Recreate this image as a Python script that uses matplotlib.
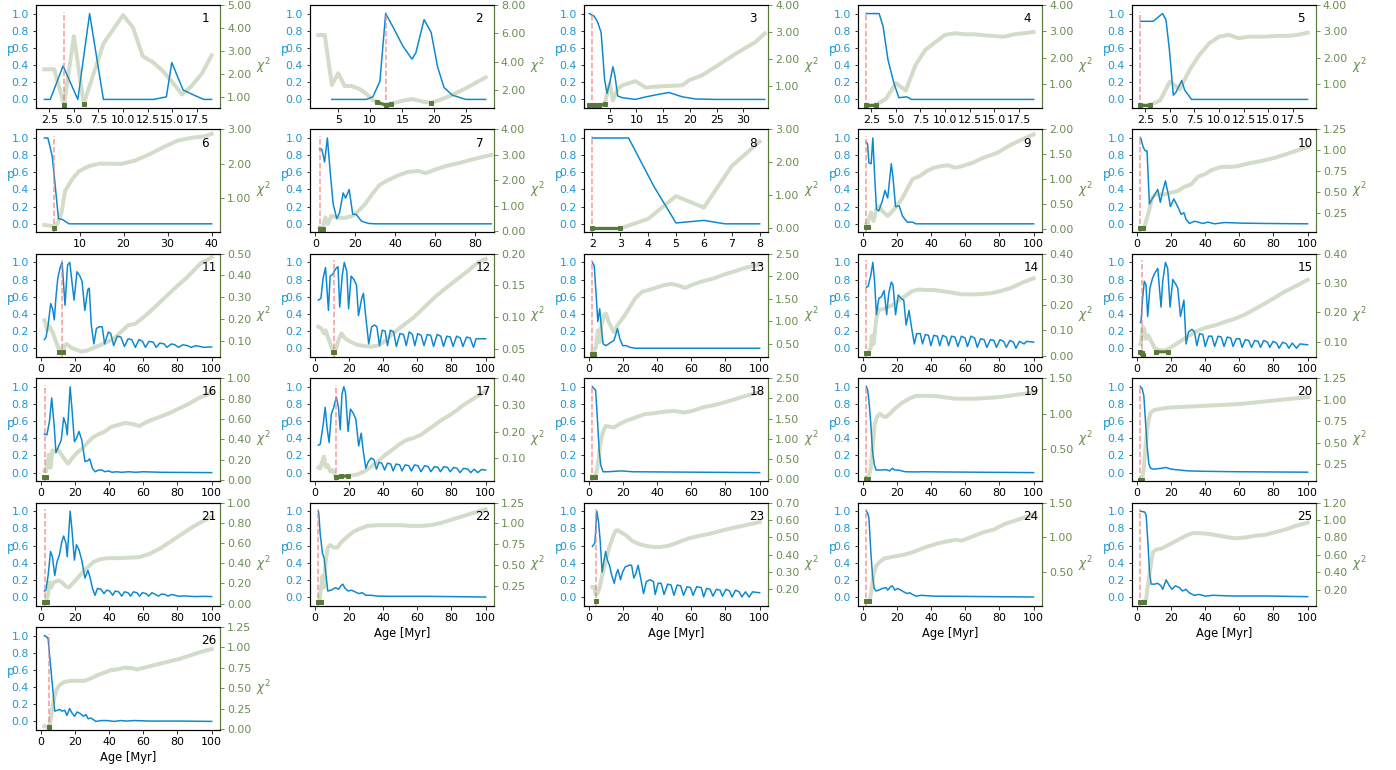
import numpy as np
import matplotlib.pyplot as plt
from matplotlib.ticker import MultipleLocator, FormatStrFormatter

nan = np.nan

# --- DATA ---
# pa = ages of p curve, p = probability, ca = ages of chi2 curve, chi = chi2,
# fa/fchi = best-fit (dark green) points
pa1 = [2.0, 2.6, 3.9, 5.4, 6.6, 8.0, 13.1, 14.4, 14.95, 16.1, 17.2, 18.2, 19.0]
p1 = [0, 0, 0.39, 0, 1.0, 0, 0, 0.03, 0.43, 0.11, 0.05, 0, 0]
ca1 = [2, 3, 4, 5, 6, 8, 10, 11, 12, 13, 14, 15, 16, 17, 18, 19]
chi1 = [2.19, 2.19, 0.65, 3.64, 0.68, 3.31, 4.56, 4.02, 2.76, 2.51, 2.14, 1.63, 1.09, 1.48, 2.0, 2.8]
fa1 = [4, nan, 6]
fchi1 = [0.65, nan, 0.68]

pa2 = [4.0, 9.4, 10.4, 11.5, 12.4, 13.5, 15.1, 16.5, 17.1, 18.4, 19.5, 20.5, 21.5, 22.8, 24.9, 28.0]
p2 = [0, 0, 0.03, 0.21, 1.0, 0.85, 0.62, 0.47, 0.54, 0.93, 0.78, 0.38, 0.14, 0.05, 0, 0]
ca2 = [1.9, 2.9, 4.0, 5.0, 6.0, 7.1, 8.4, 9.4, 10.4, 11.5, 12.4, 13.5, 15.1, 16.5, 18.2, 19.5, 20.8, 22.8, 24.9, 28.0]
chi2 = [5.88, 5.88, 2.35, 3.18, 2.28, 2.28, 2.05, 1.72, 1.29, 1.06, 0.94, 1.06, 1.25, 1.36, 1.18, 1.1, 1.29, 1.65, 2.12, 2.89]
fa2 = [11.0, 12.4, 13.3, nan, 19.5]
fchi2 = [1.15, 0.94, 1.02, nan, 1.1]

pa3 = [1.2, 2.1, 2.75, 3.4, 4.05, 4.5, 5.0, 5.6, 6.0, 6.5, 7.4, 9.8, 11.8, 14.2, 16.1, 18.6, 21.1, 24.8, 34.0]
p3 = [1.0, 0.97, 0.9, 0.78, 0.23, 0.07, 0.19, 0.38, 0.27, 0.04, 0.02, 0.0, 0.03, 0.06, 0.08, 0.03, 0.005, 0, 0]
ca3 = [1.2, 4.05, 5.0, 5.6, 6.5, 7.4, 9.8, 11.8, 13.0, 18.6, 19.8, 22.3, 24.8, 28.6, 32.3, 34.0]
chi3 = [0.30, 0.33, 1.1, 0.48, 0.91, 1.04, 1.19, 0.95, 0.98, 1.04, 1.22, 1.41, 1.72, 2.21, 2.64, 2.95]
fa3 = [1.2, 2.0, 3.0, 4.05]
fchi3 = [0.30, 0.30, 0.31, 0.33]

pa4 = [2.0, 3.3, 3.7, 4.2, 4.8, 5.3, 6.1, 6.6, 7.4, 19.0]
p4 = [1.0, 1.0, 0.85, 0.46, 0.19, 0.02, 0.03, 0.0, 0, 0]
ca4 = [2, 3, 4, 5, 6, 7, 8, 9, 10, 11, 12, 13, 14, 16, 17, 18, 19]
chi4 = [0.22, 0.22, 0.45, 1.04, 0.76, 1.73, 2.3, 2.59, 2.87, 2.93, 2.89, 2.89, 2.85, 2.8, 2.89, 2.93, 2.98]
fa4 = [2, 3]
fchi4 = [0.22, 0.22]

pa5 = [2.0, 3.3, 4.25, 4.6, 4.95, 5.35, 5.6, 6.2, 6.5, 7.2, 19.0]
p5 = [0.91, 0.91, 1.0, 0.93, 0.58, 0.05, 0.08, 0.22, 0.11, 0, 0]
ca5 = [2, 3, 4, 5, 6, 7, 8, 9, 10, 11, 12, 13, 14.5, 16, 17, 18, 19]
chi5 = [0.22, 0.22, 0.38, 1.1, 0.81, 1.54, 2.11, 2.55, 2.8, 2.87, 2.74, 2.8, 2.8, 2.83, 2.83, 2.87, 2.95]
fa5 = [2, 3]
fchi5 = [0.22, 0.22]

pa6 = [2.0, 2.8, 3.5, 3.8, 4.2, 4.8, 5.2, 6.1, 6.7, 7.6, 40.0]
p6 = [1.0, 1.0, 0.85, 0.78, 0.58, 0.27, 0.06, 0.05, 0.03, 0.0, 0.0]
ca6 = [2.0, 3.8, 4.4, 5.05, 5.9, 6.7, 8.3, 9.85, 12.25, 14.65, 19.5, 22.7, 25.9, 29.1, 32.4, 35.6, 38.4, 40.0]
chi6 = [0.23, 0.2, 0.17, 0.3, 0.6, 1.21, 1.55, 1.79, 1.94, 2.01, 2.0, 2.1, 2.28, 2.49, 2.68, 2.76, 2.8, 2.87]
fa6 = [4.1]
fchi6 = [0.15]

pa7 = [2.1, 3.2, 4.6, 6.0, 7.5, 8.9, 10.7, 12.1, 13.9, 15.1, 16.9, 18.7, 20.4, 23.1, 26.7, 30.2, 88.0]
p7 = [0.87, 0.87, 0.72, 1.0, 0.58, 0.23, 0.06, 0.13, 0.36, 0.3, 0.4, 0.11, 0.11, 0.03, 0.004, 0, 0]
ca7 = [2.1, 3.6, 5.0, 6.2, 8.0, 10.7, 14.2, 18.7, 21.3, 24.9, 28.4, 32.0, 35.6, 40.9, 46.2, 51.6, 55.1, 60.4, 65.8, 72.9, 80.0, 88.0]
chi7 = [0.16, 0.09, 0.55, 0.29, 0.61, 0.55, 0.52, 0.61, 0.78, 1.07, 1.46, 1.81, 1.98, 2.18, 2.33, 2.37, 2.28, 2.44, 2.57, 2.7, 2.85, 3.0]
fa7 = [2.1, 3.6]
fchi7 = [0.1, 0.1]

pa8 = [2.0, 3.3, 4.2, 5.0, 6.0, 6.75, 8.0]
p8 = [1.0, 1.0, 0.44, 0.01, 0.04, 0, 0]
ca8 = [2, 3, 4, 5, 6, 7, 8]
chi8 = [0, 0, 0.29, 0.98, 0.63, 1.89, 2.63]
fa8 = [2, 3]
fchi8 = [0, 0]

pa9 = [2.0, 2.7, 3.5, 4.8, 5.8, 6.8, 7.9, 9.3, 11.4, 12.9, 14.5, 16.6, 17.6, 19.1, 21.2, 23.2, 25.9, 29.0, 31.0, 100]
p9 = [0.95, 0.93, 0.71, 0.7, 1.0, 0.58, 0.17, 0.15, 0.27, 0.39, 0.3, 0.7, 0.54, 0.2, 0.21, 0.09, 0.02, 0.02, 0, 0]
ca9 = [2.0, 2.7, 3.7, 4.8, 6.2, 7.9, 9.3, 11.4, 14.5, 16.6, 19.7, 22.8, 25.9, 29.0, 33.2, 37.3, 41.5, 45.6, 49.8, 53.9,
       58.0, 64.3, 70.5, 78.8, 87.1, 93.4, 100]
chi9 = [0.09, 0.09, 0.23, 0.33, 0.16, 0.39, 0.46, 0.36, 0.26, 0.33, 0.46, 0.6, 0.8, 1.0, 1.06, 1.16, 1.23, 1.26, 1.28, 1.23,
        1.26, 1.33, 1.43, 1.53, 1.7, 1.8, 1.9]
fa9 = [2.0, 3.0]
fchi9 = [0.03, 0.03]

pa10 = [2.0, 2.4, 3.7, 4.9, 5.9, 7.3, 9.2, 12.2, 13.7, 15.1, 16.7, 18.4, 19.6, 21.6, 23.9, 25.9, 27.5, 28.8, 30.8, 33.7,
        35.7, 38.6, 41.6, 45.5, 51.4, 61.2, 74.9, 100]
p10 = [1.0, 0.99, 0.89, 0.85, 0.85, 0.23, 0.3, 0.4, 0.25, 0.38, 0.5, 0.34, 0.2, 0.29, 0.2, 0.11, 0.13, 0.05, 0.004, 0.03,
       0.02, 0.004, 0.02, 0, 0.015, 0.008, 0.004, 0]
ca10 = [2.0, 2.8, 4.3, 5.9, 7.3, 8.8, 11.2, 16.1, 20.0, 23.9, 27.8, 31.8, 35.7, 39.6, 43.5, 49.4, 55.3, 59.2, 65.1, 72.9,
        80.8, 88.6, 100]
chi10 = [0.07, 0.07, 0.07, 0.19, 0.29, 0.43, 0.47, 0.47, 0.49, 0.51, 0.56, 0.59, 0.68, 0.71, 0.76, 0.8, 0.8, 0.81, 0.84,
         0.87, 0.91, 0.96, 1.04]
fa10 = [2.0, 3.5]
fchi10 = [0.06, 0.06]

pa11 = [2, 3, 4.2, 5.7, 6.8, 7.8, 8.9, 9.9, 11.4, 12.4, 14.1, 15.6, 16.9, 17.9, 19.4, 21.1, 22.6, 24.1, 25.7, 27.4,
        28.3, 29.5, 31.0, 32.5, 34.2, 35.9, 37.3, 39.5, 40.9, 42.6, 44.7, 46.8, 48.9, 51.1, 53.2, 55.3, 57.4, 59.5, 61.2,
        63.3, 65.8, 67.5, 69.6, 72.2, 73.8, 76.4, 78.5, 80.6, 83.1, 85.9, 88.0, 90.7, 93.2, 95.4, 100]
p11 = [0.1, 0.13, 0.27, 0.52, 0.46, 0.33, 0.62, 0.82, 0.95, 1.0, 0.5, 0.97, 1.0, 0.82, 0.56, 0.89, 0.85, 0.78, 0.44, 0.68,
       0.7, 0.27, 0.05, 0.23, 0.25, 0.25, 0.05, 0.19, 0.17, 0.03, 0.14, 0.13, 0.02, 0.11, 0.1, 0.01, 0.1, 0.08, 0.01,
       0.08, 0.07, 0.01, 0.06, 0.05, 0.01, 0.05, 0.04, 0.01, 0.04, 0.03, 0.01, 0.03, 0.02, 0.01, 0.015]
ca11 = [2, 2.5, 3.6, 4.6, 6.8, 8.9, 11.0, 12.7, 13.7, 15.2, 17.3, 20.5, 23.6, 26.8, 30.0, 34.2, 38.4, 42.6, 46.8, 51.0,
        55.3, 59.5, 63.7, 67.9, 72.2, 76.4, 80.6, 84.8, 89.0, 93.2, 100]
chi11 = [0.193, 0.185, 0.147, 0.17, 0.139, 0.092, 0.053, 0.045, 0.077, 0.084, 0.069, 0.058, 0.049, 0.053, 0.064, 0.077,
         0.092, 0.108, 0.139, 0.17, 0.178, 0.204, 0.232, 0.263, 0.295, 0.326, 0.357, 0.385, 0.419, 0.453, 0.484]
fa11 = [10.5, 12.7]
fchi11 = [0.045, 0.045]

pa12 = [2, 3.5, 4.8, 6.2, 7.9, 8.9, 10.4, 11.4, 12.4, 13.5, 14.5, 16.0, 17.2, 18.7, 19.7, 21.2, 22.8, 24.3, 25.5, 27.4,
        28.4, 29.7, 31.5, 33.2, 34.9, 36.3, 37.8, 39.4, 41.1, 42.5, 44.2, 46.1, 47.7, 49.8, 51.9, 53.5, 55.2, 57.1, 58.5,
        60.2, 62.2, 63.9, 65.8, 67.8, 69.5, 71.6, 73.7, 75.3, 77.2, 79.3, 80.9, 83.0, 85.1, 86.7, 88.8, 90.9, 92.9, 94.4,
        100]
p12 = [0.56, 0.58, 0.82, 0.94, 0.44, 0.84, 0.86, 0.9, 0.93, 0.95, 0.48, 0.85, 1.0, 0.89, 0.46, 0.84, 0.8, 0.74, 0.38,
       0.58, 0.64, 0.38, 0.05, 0.25, 0.27, 0.25, 0.03, 0.21, 0.2, 0.03, 0.21, 0.19, 0.02, 0.17, 0.16, 0.03, 0.19, 0.16,
       0.03, 0.17, 0.15, 0.03, 0.16, 0.15, 0.02, 0.16, 0.14, 0.02, 0.14, 0.13, 0.02, 0.14, 0.12, 0.02, 0.13, 0.12, 0.01,
       0.11, 0.11]
ca12 = [2, 3.7, 5.2, 6.2, 7.9, 9.3, 10.8, 12.4, 14.1, 15.6, 17.6, 20.7, 24.9, 29.0, 33.2, 37.3, 41.5, 45.6, 51.9, 58.1,
        64.3, 70.5, 76.8, 83.0, 89.2, 95.4, 100]
chi12 = [0.0846, 0.082, 0.074, 0.079, 0.066, 0.055, 0.045, 0.05, 0.066, 0.074, 0.066, 0.061, 0.056, 0.054, 0.053, 0.055,
         0.063, 0.074, 0.087, 0.1, 0.116, 0.132, 0.146, 0.159, 0.172, 0.186, 0.192]
fa12 = [10.4, 11.4]
fchi12 = [0.045, 0.045]

pa13 = [2, 3.1, 4.2, 5.2, 6.3, 7.3, 8.3, 10.0, 11.5, 12.9, 14.6, 15.6, 16.7, 18.1, 19.8, 21.9, 24.0, 27.1, 100]
p13 = [1.0, 0.96, 0.62, 0.31, 0.46, 0.23, 0.05, 0.03, 0.05, 0.07, 0.09, 0.15, 0.23, 0.11, 0.03, 0.03, 0.01, 0, 0]
ca13 = [2, 3.1, 4.2, 5.2, 6.3, 7.3, 8.8, 10.0, 11.5, 14.6, 16.7, 18.8, 20.8, 22.9, 27.1, 31.3, 35.4, 39.6, 43.8, 47.9,
        52.1, 56.3, 60.4, 66.7, 72.9, 79.2, 85.4, 91.7, 100]
chi13 = [0.35, 0.35, 0.43, 0.8, 0.54, 0.91, 1.14, 1.17, 0.99, 0.76, 0.91, 1.02, 1.12, 1.25, 1.51, 1.66, 1.7, 1.75, 1.8,
         1.83, 1.8, 1.74, 1.81, 1.89, 1.95, 2.04, 2.11, 2.19, 2.26]
fa13 = [2, 3.1]
fchi13 = [0.28, 0.28]

pa14 = [2, 3, 4.6, 5.8, 6.8, 7.9, 9.3, 10.8, 12.4, 13.9, 15.1, 16.6, 17.6, 19.1, 20.7, 22.4, 23.9, 25.3, 27.0, 28.4,
        30.1, 31.5, 33.6, 34.9, 36.5, 38.4, 39.8, 41.5, 43.6, 45.0, 46.7, 48.8, 50.2, 51.9, 53.9, 55.6, 57.7, 59.8, 61.2,
        63.3, 65.4, 67.0, 68.9, 71.0, 72.6, 74.7, 76.8, 78.2, 80.3, 82.4, 84.0, 86.1, 88.2, 89.6, 91.7, 94.4, 95.9, 100]
p14 = [0.71, 0.72, 0.85, 1.0, 0.78, 0.39, 0.58, 0.6, 0.67, 0.39, 0.64, 0.77, 0.74, 0.39, 0.62, 0.58, 0.56, 0.27, 0.44,
       0.25, 0.05, 0.17, 0.17, 0.05, 0.16, 0.15, 0.03, 0.15, 0.14, 0.03, 0.15, 0.13, 0.03, 0.14, 0.13, 0.02, 0.14, 0.12,
       0.02, 0.14, 0.12, 0.01, 0.11, 0.1, 0.01, 0.1, 0.09, 0.01, 0.1, 0.08, 0.01, 0.09, 0.07, 0.0, 0.08, 0.05, 0.08, 0.07]
ca14 = [2, 3, 4.6, 5.2, 6.2, 7.9, 9.3, 11.4, 14.5, 17.6, 20.7, 24.9, 29.0, 33.2, 37.3, 41.5, 45.6, 51.9, 58.1, 66.4,
        74.7, 80.9, 87.1, 93.4, 100]
chi14 = [0.009, 0.009, 0.033, 0.078, 0.046, 0.15, 0.182, 0.182, 0.19, 0.2, 0.215, 0.235, 0.254, 0.26, 0.258, 0.258, 0.254,
         0.248, 0.241, 0.241, 0.245, 0.254, 0.267, 0.287, 0.304]
fa14 = [2, 3.1]
fchi14 = [0.009, 0.009]

pa15 = [2, 2.4, 3.3, 4.3, 5.3, 6.3, 7.6, 9.2, 10.6, 12.2, 14.1, 15.1, 16.7, 18.0, 19.4, 21.0, 22.9, 23.9, 25.5, 27.5,
        28.8, 30.2, 32.2, 33.7, 35.1, 36.7, 38.6, 40.0, 42.0, 43.9, 45.5, 47.5, 49.4, 51.0, 52.9, 54.9, 56.3, 58.2, 60.2,
        61.6, 63.5, 65.5, 67.1, 69.0, 71.0, 72.4, 74.3, 76.5, 77.8, 79.8, 81.8, 83.3, 85.3, 87.6, 89.0, 91.0, 93.5, 95.5,
        100]
p15 = [0.3, 0.31, 0.58, 0.78, 0.74, 0.37, 0.7, 0.82, 0.88, 0.93, 0.48, 0.78, 1.0, 0.93, 0.48, 0.8, 0.74, 0.7, 0.37, 0.56,
       0.05, 0.19, 0.22, 0.19, 0.03, 0.17, 0.16, 0.02, 0.14, 0.14, 0.02, 0.14, 0.13, 0.02, 0.13, 0.12, 0.02, 0.11, 0.11,
       0.01, 0.1, 0.09, 0.01, 0.09, 0.08, 0.01, 0.09, 0.07, 0.01, 0.08, 0.06, 0.0, 0.07, 0.05, 0.0, 0.06, 0.0, 0.05, 0.04]
ca15 = [2, 2.4, 3.3, 4.3, 5.3, 6.7, 8.2, 10.2, 12.2, 16.1, 19.0, 22.0, 25.9, 29.8, 33.7, 37.6, 41.6, 45.5, 51.4, 57.3,
        63.1, 69.0, 74.9, 80.8, 86.7, 92.5, 100]
chi15 = [0.092, 0.098, 0.15, 0.144, 0.109, 0.121, 0.103, 0.08, 0.072, 0.069, 0.077, 0.088, 0.103, 0.118, 0.132, 0.142,
         0.15, 0.155, 0.167, 0.178, 0.192, 0.211, 0.23, 0.25, 0.271, 0.288, 0.311]
fa15 = [2, 2.8, 3.4, nan, 11.2, 18.0]
fchi15 = [0.065, 0.062, 0.054, nan, 0.065, 0.065]

pa16 = [2, 3.5, 5.0, 6.3, 7.7, 8.8, 10.4, 11.9, 13.3, 14.6, 15.4, 17.1, 18.1, 19.6, 20.8, 22.3, 23.9, 25.8, 27.5, 28.5,
        30.2, 31.7, 33.8, 35.8, 37.5, 39.6, 41.5, 44.2, 47.3, 51.5, 55.6, 59.8, 70.2, 100]
p16 = [0.45, 0.44, 0.6, 0.87, 0.56, 0.23, 0.31, 0.38, 0.64, 0.56, 0.44, 1.0, 0.76, 0.36, 0.4, 0.48, 0.38, 0.13, 0.14,
       0.16, 0.05, 0.01, 0.03, 0.03, 0.01, 0.02, 0.004, 0.01, 0.004, 0.01, 0.004, 0.01, 0.004, 0]
ca16 = [2, 3.1, 4.6, 5.6, 6.7, 8.1, 9.8, 11.9, 14.0, 16.0, 18.1, 21.3, 24.4, 27.5, 30.6, 33.8, 36.9, 41.0, 45.2, 49.4,
        53.5, 57.7, 61.9, 68.1, 74.4, 80.6, 86.9, 93.1, 100]
chi16 = [0.09, 0.085, 0.25, 0.12, 0.29, 0.28, 0.3, 0.25, 0.2, 0.16, 0.21, 0.27, 0.31, 0.37, 0.42, 0.45, 0.47, 0.52, 0.54,
         0.56, 0.55, 0.53, 0.57, 0.61, 0.65, 0.7, 0.75, 0.81, 0.86]
fa16 = [2, 3.1]
fchi16 = [0.033, 0.033]

pa17 = [2, 3.1, 4.8, 6.0, 7.1, 8.3, 9.6, 11.0, 12.5, 13.8, 14.8, 15.8, 16.9, 17.9, 19.4, 20.8, 22.5, 24.0, 25.6, 27.1,
        28.3, 29.8, 31.3, 32.9, 34.6, 36.0, 37.5, 39.2, 40.8, 42.5, 44.4, 45.8, 47.5, 49.6, 51.0, 52.9, 55.0, 56.5, 58.3,
        60.4, 62.1, 64.2, 66.3, 67.9, 70.0, 72.1, 73.5, 75.6, 77.7, 79.2, 81.3, 83.3, 85.0, 87.1, 89.6, 91.3, 93.3, 95.4,
        97.5, 100]
p17 = [0.32, 0.33, 0.56, 0.76, 0.52, 0.35, 0.68, 0.76, 0.88, 0.76, 0.5, 0.91, 1.0, 0.93, 0.48, 0.74, 0.69, 0.62, 0.31,
       0.46, 0.25, 0.05, 0.13, 0.17, 0.15, 0.04, 0.12, 0.11, 0.03, 0.11, 0.1, 0.02, 0.1, 0.09, 0.02, 0.09, 0.08, 0.02,
       0.09, 0.08, 0.01, 0.08, 0.07, 0.01, 0.07, 0.06, 0.01, 0.07, 0.06, 0.01, 0.06, 0.05, 0.0, 0.05, 0.04, 0.0, 0.04,
       0.0, 0.035, 0.03]
ca17 = [2, 3.1, 4.2, 5.2, 6.3, 7.5, 9.0, 10.4, 12.1, 13.8, 16.3, 20.4, 24.6, 28.8, 32.9, 37.1, 41.3, 45.4, 49.6, 53.8,
        57.9, 62.1, 66.3, 70.4, 74.6, 78.8, 82.9, 87.1, 91.3, 95.4, 100]
chi17 = [0.065, 0.062, 0.087, 0.106, 0.068, 0.075, 0.05, 0.056, 0.031, 0.031, 0.033, 0.034, 0.039, 0.05, 0.068, 0.09,
         0.113, 0.132, 0.153, 0.169, 0.176, 0.188, 0.207, 0.226, 0.245, 0.261, 0.279, 0.3, 0.317, 0.333, 0.352]
fa17 = [12.1, 15.0, 19.5]
fchi17 = [0.031, 0.032, 0.034]

pa18 = [2, 2.9, 3.9, 5.0, 6.0, 7.0, 8.3, 10.8, 19.1, 25.3, 100]
p18 = [1.0, 0.98, 0.96, 0.61, 0.25, 0.08, 0.01, 0.01, 0.02, 0.01, 0]
ca18 = [2, 3.5, 4.6, 5.6, 6.6, 8.1, 9.8, 11.8, 14.9, 18.0, 22.2, 27.4, 32.6, 37.8, 44.0, 50.2, 55.4, 60.6, 66.8, 73.0,
        79.3, 85.5, 91.7, 100]
chi18 = [0.066, 0.05, 0.21, 0.46, 0.87, 1.16, 1.32, 1.3, 1.28, 1.37, 1.45, 1.53, 1.61, 1.63, 1.67, 1.69, 1.65, 1.69, 1.78,
         1.83, 1.9, 1.98, 2.06, 2.15]
fa18 = [2, 3.5]
fchi18 = [0.06, 0.06]

pa19 = [2, 2.7, 3.5, 4.6, 5.6, 6.6, 7.7, 10.4, 13.5, 15.6, 17.2, 18.7, 20.7, 24.9, 31.1, 35.3, 45.6, 100]
p19 = [1.0, 0.97, 0.84, 0.57, 0.25, 0.1, 0.03, 0.03, 0.035, 0.02, 0.05, 0.03, 0.03, 0.01, 0.008, 0.01, 0.008, 0]
ca19 = [2, 3.1, 4.6, 5.8, 6.8, 8.3, 10.0, 11.8, 13.5, 15.6, 18.7, 22.8, 27.0, 31.1, 35.3, 41.5, 47.7, 53.9, 60.2, 66.4,
        72.6, 78.8, 85.1, 91.3, 100]
chi19 = [0.09, 0.09, 0.22, 0.56, 0.84, 0.96, 0.995, 0.96, 0.95, 0.995, 1.07, 1.15, 1.21, 1.25, 1.25, 1.25, 1.23, 1.21,
         1.21, 1.21, 1.22, 1.23, 1.25, 1.27, 1.3]
fa19 = [2, 3.1]
fchi19 = [0.08, 0.08]

pa20 = [2, 3, 4, 5, 6, 7, 8, 10, 14, 17, 20, 25, 30, 40, 60, 100]
p20 = [1.0, 0.98, 0.9, 0.6, 0.3, 0.1, 0.05, 0.04, 0.05, 0.06, 0.04, 0.03, 0.02, 0.015, 0.01, 0.005]
ca20 = [2, 3, 4, 5, 6, 7, 8, 10, 15, 20, 30, 40, 50, 60, 70, 80, 90, 100]
chi20 = [0.07, 0.07, 0.2, 0.45, 0.65, 0.78, 0.85, 0.88, 0.9, 0.91, 0.92, 0.93, 0.94, 0.95, 0.97, 0.99, 1.01, 1.03]
fa20 = [2, 3]
fchi20 = [0.07, 0.07]

pa21 = [2, 2.9, 4.2, 5.6, 6.7, 8.1, 9.4, 10.8, 12.3, 13.3, 14.6, 15.4, 17.1, 18.1, 19.6, 20.8, 22.3, 23.9, 25.8, 27.5,
        28.5, 30.2, 31.7, 33.1, 35.2, 36.9, 38.5, 40.2, 42.1, 43.5, 45.6, 47.3, 48.9, 51.0, 52.5, 54.2, 56.3, 57.7, 59.4,
        61.5, 63.1, 65.0, 67.1, 68.8, 70.6, 72.7, 74.4, 76.5, 78.5, 80.6, 84.8, 90.0, 95.2, 100]
p21 = [0.07, 0.08, 0.25, 0.53, 0.47, 0.25, 0.41, 0.49, 0.65, 0.71, 0.63, 0.47, 1.0, 0.8, 0.43, 0.61, 0.55, 0.43, 0.22,
       0.31, 0.25, 0.1, 0.02, 0.1, 0.09, 0.04, 0.08, 0.07, 0.02, 0.07, 0.06, 0.01, 0.06, 0.05, 0.01, 0.06, 0.05, 0.01,
       0.05, 0.04, 0.01, 0.05, 0.03, 0.01, 0.035, 0.03, 0.01, 0.03, 0.02, 0.01, 0.012, 0.005, 0.008, 0.005]
ca21 = [2, 2.9, 4.2, 5.0, 6.0, 7.3, 8.8, 10.4, 12.3, 14.6, 16.5, 18.1, 21.3, 24.4, 27.5, 30.6, 34.8, 39.0, 45.2, 51.5,
        57.7, 64.0, 70.2, 76.5, 82.7, 89.0, 95.2, 100]
chi21 = [0.017, 0.017, 0.09, 0.21, 0.16, 0.21, 0.22, 0.23, 0.21, 0.17, 0.16, 0.19, 0.25, 0.31, 0.36, 0.41, 0.44, 0.45,
         0.45, 0.455, 0.46, 0.495, 0.55, 0.62, 0.69, 0.76, 0.82, 0.86]
fa21 = [2, 3.5]
fchi21 = [0.015, 0.015]

pa22 = [2, 2.3, 3.1, 4.4, 5.4, 6.5, 7.5, 9.6, 12.1, 13.8, 15.2, 16.3, 17.7, 19.4, 21.5, 23.5, 25.6, 27.7, 29.8, 32.9,
        37.1, 45.4, 66.3, 100]
p22 = [1.0, 0.96, 0.73, 0.51, 0.45, 0.25, 0.07, 0.08, 0.11, 0.09, 0.13, 0.15, 0.1, 0.07, 0.08, 0.06, 0.04, 0.05, 0.02,
       0.02, 0.01, 0.008, 0.008, 0]
ca22 = [2, 2.6, 3.3, 4.4, 5.2, 6.3, 7.5, 9.0, 11.0, 13.1, 15.2, 18.3, 22.5, 26.7, 30.8, 37.1, 43.3, 49.6, 55.8, 62.1,
        68.3, 74.6, 80.8, 87.1, 93.3, 100]
chi22 = [0.06, 0.06, 0.19, 0.37, 0.23, 0.55, 0.71, 0.74, 0.71, 0.71, 0.77, 0.83, 0.9, 0.94, 0.97, 0.98, 0.98, 0.98, 0.97,
         0.97, 0.98, 1.01, 1.05, 1.09, 1.13, 1.17]
fa22 = [2, 3.3]
fchi22 = [0.06, 0.06]

pa23 = [2, 3.5, 4.6, 5.6, 6.6, 7.7, 8.7, 9.8, 10.8, 12.0, 13.4, 14.8, 16.0, 17.0, 18.5, 19.7, 21.2, 23.4, 25.0, 26.3,
        27.4, 28.8, 30.1, 32.0, 33.6, 35.7, 37.8, 38.8, 40.5, 42.3, 44.0, 46.1, 48.1, 49.8, 51.7, 53.7, 55.4, 57.5, 59.5,
        61.0, 63.1, 65.8, 67.2, 68.9, 71.0, 72.6, 74.7, 76.8, 78.2, 80.3, 82.4, 83.8, 85.9, 88.0, 89.6, 91.7, 93.8, 95.9,
        100]
p23 = [0.59, 0.63, 1.0, 0.88, 0.65, 0.29, 0.41, 0.53, 0.43, 0.37, 0.25, 0.16, 0.27, 0.32, 0.2, 0.29, 0.35, 0.37, 0.37,
       0.22, 0.27, 0.37, 0.24, 0.04, 0.18, 0.2, 0.18, 0.03, 0.16, 0.16, 0.03, 0.15, 0.14, 0.02, 0.14, 0.13, 0.02, 0.12,
       0.11, 0.02, 0.12, 0.11, 0.0, 0.1, 0.09, 0.01, 0.09, 0.08, 0.01, 0.09, 0.07, 0.0, 0.08, 0.06, 0.0, 0.06, 0.0, 0.06,
       0.05]
ca23 = [2, 3.1, 3.9, 5.0, 6.2, 7.7, 9.8, 11.8, 13.9, 15.6, 17.0, 19.1, 22.2, 25.3, 29.5, 33.6, 37.8, 41.9, 46.1, 50.2,
        54.4, 58.5, 64.7, 71.0, 77.2, 83.4, 89.6, 95.9, 100]
chi23 = [0.213, 0.213, 0.17, 0.175, 0.21, 0.277, 0.363, 0.44, 0.498, 0.537, 0.54, 0.527, 0.508, 0.479, 0.46, 0.45, 0.444,
         0.444, 0.45, 0.463, 0.479, 0.494, 0.508, 0.521, 0.537, 0.552, 0.565, 0.579, 0.588]
fa23 = [3.9]
fchi23 = [0.13]

pa24 = [2, 2.7, 3.5, 4.6, 5.6, 6.6, 7.7, 9.3, 11.4, 13.5, 14.5, 16.2, 17.2, 18.7, 20.3, 22.2, 23.9, 25.9, 27.4, 29.0,
        31.1, 34.2, 41.5, 56.0, 76.8, 100]
p24 = [1.0, 0.98, 0.92, 0.53, 0.25, 0.1, 0.07, 0.08, 0.1, 0.11, 0.08, 0.12, 0.13, 0.08, 0.1, 0.08, 0.06, 0.04, 0.05, 0.03,
       0.01, 0.02, 0.01, 0.008, 0.004, 0]
ca24 = [2, 3.1, 4.1, 5.2, 6.2, 7.7, 9.3, 12.4, 16.6, 20.7, 24.9, 29.0, 33.2, 37.3, 41.5, 45.6, 49.8, 53.9, 58.1, 62.2,
        66.4, 70.5, 76.8, 83.0, 89.2, 95.4, 100]
chi24 = [0.075, 0.075, 0.085, 0.27, 0.46, 0.58, 0.63, 0.69, 0.71, 0.73, 0.75, 0.78, 0.82, 0.86, 0.89, 0.92, 0.94, 0.96,
         0.95, 0.99, 1.03, 1.07, 1.11, 1.19, 1.24, 1.29, 1.33]
fa24 = [2, 3.3]
fchi24 = [0.07, 0.07]

pa25 = [2, 4.5, 5.4, 6.4, 7.4, 8.3, 10.3, 12.2, 14.1, 15.1, 17.1, 19.0, 20.5, 22.5, 24.8, 26.7, 28.7, 30.6, 33.5, 36.4,
        40.3, 44.2, 50.0, 55.8, 75.2, 100]
p25 = [1.0, 0.99, 0.95, 0.64, 0.28, 0.15, 0.15, 0.16, 0.13, 0.09, 0.2, 0.13, 0.09, 0.13, 0.11, 0.07, 0.09, 0.05, 0.02,
       0.03, 0.01, 0.02, 0.016, 0.012, 0.012, 0.004]
ca25 = [2, 3.8, 5.4, 6.4, 7.8, 9.3, 11.2, 14.1, 17.1, 21.0, 24.8, 28.7, 32.6, 36.4, 42.2, 48.1, 53.9, 57.8, 63.6, 69.4,
        75.2, 81.0, 86.8, 92.6, 100]
chi25 = [0.06, 0.06, 0.09, 0.25, 0.44, 0.63, 0.66, 0.67, 0.7, 0.74, 0.78, 0.82, 0.85, 0.85, 0.84, 0.82, 0.8, 0.79, 0.8,
         0.82, 0.83, 0.86, 0.89, 0.93, 0.97]
fa25 = [2, 4]
fchi25 = [0.06, 0.06]

pa26 = [2, 3.7, 4.2, 8.1, 9.6, 11.0, 12.3, 13.9, 15.2, 16.8, 18.1, 19.7, 21.2, 23.1, 24.9, 26.4, 27.7, 29.3, 32.2, 35.1,
        38.9, 42.8, 46.6, 50.5, 54.3, 64.0, 83.2, 100]
p26 = [1.0, 0.98, 0.96, 0.12, 0.13, 0.14, 0.12, 0.13, 0.07, 0.15, 0.1, 0.06, 0.11, 0.09, 0.06, 0.08, 0.03, 0.04, 0.0,
       0.01, 0.01, 0.0, 0.01, 0.004, 0.01, 0.004, 0.004, 0]
ca26 = [2, 4.2, 5.2, 6.2, 7.5, 9.1, 11.0, 13.9, 17.7, 21.6, 25.4, 29.3, 33.1, 37.0, 40.8, 44.7, 48.6, 52.4, 56.3, 60.1,
        64.0, 69.7, 75.5, 81.3, 87.1, 92.9, 100]
chi26 = [0.037, 0.02, 0.05, 0.19, 0.36, 0.48, 0.54, 0.58, 0.59, 0.59, 0.59, 0.62, 0.66, 0.69, 0.72, 0.73, 0.75, 0.75,
         0.73, 0.75, 0.77, 0.8, 0.83, 0.86, 0.9, 0.94, 0.98]
fa26 = [4.5]
fchi26 = [0.02]

best_age = [4.0, 12.4, 1.7, 2.0, 2.0, 4.1, 2.1, 2.0, 2.0, 2.0, 12.4, 11.4, 2.0,
            2.0, 3.0, 2.3, 12.1, 2.0, 2.0, 2.0, 2.3, 2.0, 4.0, 2.0, 2.0, 4.5]

# --- AXIS SETTINGS ---
chi_lim = [(0.5, 5.0), (0.73, 8.0), (0.2, 4.0), (0.1, 4.0), (0.1, 4.0), (0.015, 3.0), (-0.04, 4.0), (-0.12, 3.0),
           (-0.07, 2.0), (0.013, 1.25), (0.025, 0.5), (0.037, 0.2), (0.21, 2.5), (-0.004, 0.4), (0.048, 0.4),
           (-0.013, 1.0), (0.014, 0.4), (-0.05, 2.5), (0.043, 1.5), (0.055, 1.25), (-0.02, 1.0), (0.014, 1.25),
           (0.106, 0.7), (0.007, 1.5), (0.017, 1.2), (-0.012, 1.25)]
chi_step = [1, 2, 1, 1, 1, 1, 1, 1, 0.5, 0.25, 0.1, 0.05, 0.5, 0.1, 0.1, 0.2, 0.1, 0.5, 0.5, 0.25, 0.2, 0.25, 0.1,
            0.5, 0.2, 0.25]
x_lim = {3: (0.2, 34.6), 7: (-2.7, 89.4)}
x_step = {1: 2.5, 2: 5, 3: 5, 4: 2.5, 5: 2.5, 6: 10, 8: 1}

panels = [
    (pa1, p1, ca1, chi1, fa1, fchi1), (pa2, p2, ca2, chi2, fa2, fchi2), (pa3, p3, ca3, chi3, fa3, fchi3),
    (pa4, p4, ca4, chi4, fa4, fchi4), (pa5, p5, ca5, chi5, fa5, fchi5), (pa6, p6, ca6, chi6, fa6, fchi6),
    (pa7, p7, ca7, chi7, fa7, fchi7), (pa8, p8, ca8, chi8, fa8, fchi8), (pa9, p9, ca9, chi9, fa9, fchi9),
    (pa10, p10, ca10, chi10, fa10, fchi10), (pa11, p11, ca11, chi11, fa11, fchi11),
    (pa12, p12, ca12, chi12, fa12, fchi12), (pa13, p13, ca13, chi13, fa13, fchi13),
    (pa14, p14, ca14, chi14, fa14, fchi14), (pa15, p15, ca15, chi15, fa15, fchi15),
    (pa16, p16, ca16, chi16, fa16, fchi16), (pa17, p17, ca17, chi17, fa17, fchi17),
    (pa18, p18, ca18, chi18, fa18, fchi18), (pa19, p19, ca19, chi19, fa19, fchi19),
    (pa20, p20, ca20, chi20, fa20, fchi20), (pa21, p21, ca21, chi21, fa21, fchi21),
    (pa22, p22, ca22, chi22, fa22, fchi22), (pa23, p23, ca23, chi23, fa23, fchi23),
    (pa24, p24, ca24, chi24, fa24, fchi24), (pa25, p25, ca25, chi25, fa25, fchi25),
    (pa26, p26, ca26, chi26, fa26, fchi26),
]

BLUE = '#0b88d0'
BLUE_TXT = '#1f98d6'
GREEN = '#6b8e4e'
GREEN_DARK = '#587a39'
RED = '#f08080'

plt.rcParams['font.size'] = 11
plt.rcParams['xtick.labelsize'] = 11
plt.rcParams['ytick.labelsize'] = 11
W, H = 1396, 770
fig = plt.figure(figsize=(W / 72, H / 72), dpi=72)

for i, (pa, p, ca, chi, fa, fchi) in enumerate(panels):
    n = i + 1
    row, col = divmod(i, 5)
    x0 = 36 + 274 * col
    top = 5 + 124.4 * row
    ax = fig.add_axes([x0 / W, 1 - (top + 103) / H, 184 / W, 103 / H])
    tw = ax.twinx()

    ax.plot(pa, p, color=BLUE, lw=1.5)
    ax.axvline(best_age[i], ymin=0, ymax=0.935, color=RED, ls='--', lw=1.5, alpha=0.8)
    ax.set_ylim(-0.1, 1.1)
    ax.yaxis.set_major_locator(MultipleLocator(0.2))
    ax.yaxis.set_major_formatter(FormatStrFormatter('%.1f'))
    ax.set_ylabel('p', color=BLUE_TXT, rotation=0, fontsize=12)
    ax.yaxis.set_label_coords(-0.135, 0.5)
    ax.tick_params(axis='y', labelcolor=BLUE_TXT)

    tw.plot(ca, chi, color=GREEN, lw=4, alpha=0.3)
    tw.plot(fa, fchi, color=GREEN_DARK, lw=3, marker='s', ms=3.5)
    tw.set_ylim(*chi_lim[i])
    tw.yaxis.set_major_locator(MultipleLocator(chi_step[i]))
    tw.yaxis.set_major_formatter(FormatStrFormatter('%.2f'))
    tw.set_ylabel('$\\chi^2$', color=GREEN, rotation=0, fontsize=12)
    tw.yaxis.set_label_coords(1.235, 0.5)
    tw.tick_params(axis='y', labelcolor=GREEN, color=GREEN_DARK)
    tw.spines['right'].set_color(GREEN_DARK)
    for sp in tw.spines.values():
        sp.set_linewidth(1.2)

    if n in x_lim:
        ax.set_xlim(*x_lim[n])
    ax.xaxis.set_major_locator(MultipleLocator(x_step.get(n, 20)))

    tw.text(0.9, 0.93, str(n), transform=ax.transAxes, ha='left', va='top', fontsize=12)

    if i >= 21:
        ax.set_xlabel('Age [Myr]', fontsize=11.5)

fig.savefig('out.png', dpi=72)
